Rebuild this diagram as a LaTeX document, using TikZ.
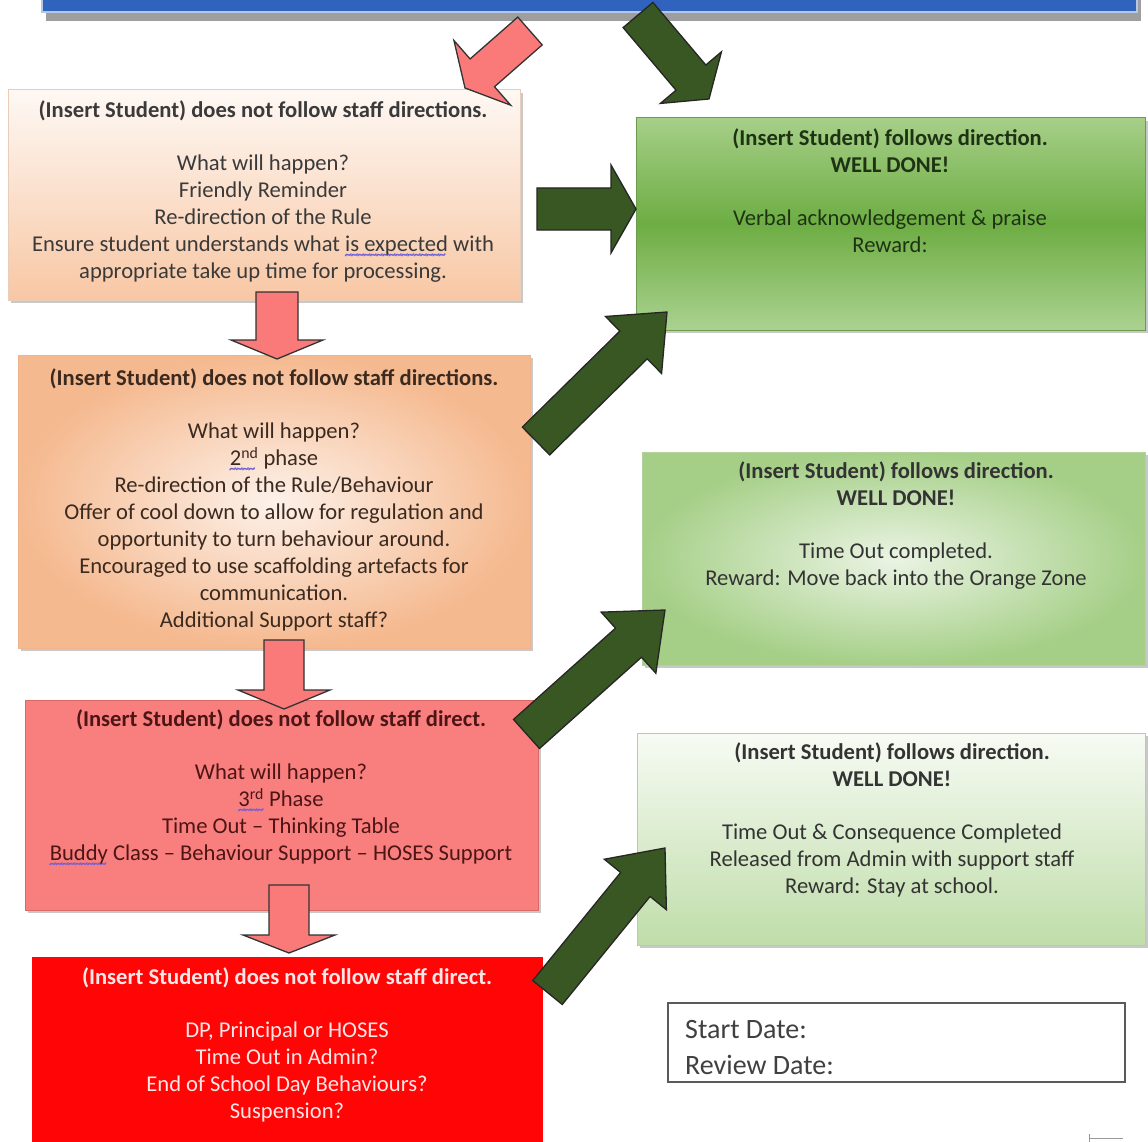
\documentclass[tikz,border=0pt]{standalone}
\usepackage{fontspec}
\setmainfont{Carlito}
\usetikzlibrary{calc,shadows}

\definecolor{barblue}{HTML}{3063BE}
\definecolor{barline}{HTML}{B4C7E7}
\definecolor{peachtop}{HTML}{FEF8F4}
\definecolor{peachbot}{HTML}{F8C7A4}
\definecolor{peachline}{HTML}{E9CDB9}
\definecolor{orinner}{HTML}{FDF1E9}
\definecolor{orouter}{HTML}{F5B98F}
\definecolor{orline}{HTML}{F0B48C}
\definecolor{salmon}{HTML}{F97F7F}
\definecolor{salmonline}{HTML}{D86A66}
\definecolor{brightred}{HTML}{FF0505}
\definecolor{gAtop}{HTML}{A6CF88}
\definecolor{gAmid}{HTML}{6DAD43}
\definecolor{gAbot}{HTML}{ABD290}
\definecolor{gAline}{HTML}{6D9B4E}
\definecolor{gBin}{HTML}{EBF4E4}
\definecolor{gBout}{HTML}{A5CF87}
\definecolor{gCtop}{HTML}{F7FBF4}
\definecolor{gCbot}{HTML}{BFDDA9}
\definecolor{gline}{HTML}{B3D09E}
\definecolor{arrowgreen}{HTML}{385723}
\definecolor{arrowpink}{HTML}{FA7A7A}
\definecolor{txtA}{HTML}{3A3A3A}
\definecolor{txtB}{HTML}{3B2A20}
\definecolor{txtC}{HTML}{4D1515}
\definecolor{txtD}{HTML}{FFE6E6}
\definecolor{txtG}{HTML}{1F3314}
\definecolor{txtGr}{HTML}{333333}
\definecolor{squigc}{HTML}{6F5FD8}
\definecolor{dategray}{HTML}{404040}
\definecolor{dateline}{HTML}{5A5A5A}

\newlength\sqw
\newcommand\squig[1]{\settowidth\sqw{#1}\rlap{\raisebox{-8pt}{\color{squigc}\fontsize{15}{15}\selectfont\bfseries\leaders\hbox{\kern-0.6pt\char"007E\kern-0.6pt}\hskip\sqw}}#1}

% block arrow: tail, tip, shaft half width, head half width, head length, style
\newcommand\blockarrow[6]{%
  \coordinate (ba-hb) at ($(#2)!#5!(#1)$);
  \draw[#6] ($(#1)!#3!90:(#2)$) -- ($(ba-hb)!#3!90:(#2)$) -- ($(ba-hb)!#4!90:(#2)$)
    -- (#2) -- ($(ba-hb)!#4!-90:(#2)$) -- ($(ba-hb)!#3!-90:(#2)$) -- ($(#1)!#3!-90:(#2)$) -- cycle;
}

\tikzset{
  boxbase/.style={rectangle, inner sep=0pt, outer sep=0pt, line width=1pt,
    drop shadow={shadow xshift=3pt, shadow yshift=-3pt, opacity=.3, fill=black!70}},
  plainbox/.style={rectangle, inner sep=0pt, outer sep=0pt},
  txt/.style={align=center, inner sep=0pt, anchor=north, font=\fontsize{22.6}{27}\selectfont},
  datetxt/.style={inner sep=0pt, anchor=base west, text=dategray, font=\fontsize{28}{36}\selectfont},
  greenarrow/.style={fill=arrowgreen, draw=black!85, line width=1.3pt, line join=miter},
  pinkarrow/.style={fill=arrowpink, draw=black!80, line width=1.3pt, line join=miter},
}

\begin{document}
\begin{tikzpicture}[x=1pt,y=-1pt]
\useasboundingbox (0,0) rectangle (1148,1142);
\fill[white] (0,0) rectangle (1148,1142);

% top bar
\fill[black!38] (46,0) rectangle (1141,21);
\node[plainbox, fill=barblue, draw=barline, line width=2pt, minimum width=1095, minimum height=24] (bar) at (589.5,0) {};

% left boxes
\node[boxbase, top color=peachtop, bottom color=peachbot, draw=peachline, minimum width=512, minimum height=210] (b1) at (264,195) {};
\node[boxbase, inner color=orinner, outer color=orouter, draw=orline, minimum width=512, minimum height=293] (b2) at (274,501.5) {};
\node[boxbase, fill=salmon, draw=salmonline, minimum width=513, minimum height=210] (b3) at (281.5,805) {};
\node[plainbox, fill=brightred, minimum width=511, minimum height=190] (b4) at (287.5,1052) {};

% right boxes
\node[boxbase, top color=gAtop, bottom color=gAbot, middle color=gAmid, draw=gAline, minimum width=509, minimum height=212] (g1) at (890.5,224) {};
\node[boxbase, inner color=gBin, outer color=gBout, draw=gline, minimum width=503, minimum height=213] (g2) at (893.5,558.5) {};
\node[boxbase, top color=gCtop, bottom color=gCbot, draw=gline, minimum width=508, minimum height=212] (g3) at (891,839) {};
\node[plainbox, fill=white, draw=dateline, line width=1.6pt, minimum width=457, minimum height=79] (dates) at (896.5,1042.5) {};

% texts
\node[txt, text=txtA] (t1) at (263,101) {\textbf{(Insert Student) does not follow staff directions.}\\[26pt]
  What will happen?\\ Friendly Reminder\\ Re-direction of the Rule\\
  Ensure student understands what \squig{is expected} with\\ appropriate take up time for processing.};
\node[txt, text=txtB] (t2) at (274,369) {\textbf{(Insert Student) does not follow staff directions.}\\[26pt]
  What will happen?\\ \squig{2\textsuperscript{nd}} phase\\ Re-direction of the Rule/Behaviour\\
  Offer of cool down to allow for regulation and\\ opportunity to turn behaviour around.\\
  Encouraged to use scaffolding artefacts for\\ communication.\\ Additional Support staff?};
\node[txt, text=txtC] (t3) at (281,710) {\textbf{(Insert Student) does not follow staff direct.}\\[26pt]
  What will happen?\\ \squig{3\textsuperscript{rd}} Phase\\ Time Out -- Thinking Table\\
  \squig{Buddy} Class -- Behaviour Support -- HOSES Support};
\node[txt, text=txtD] (t4) at (287,968) {\textbf{(Insert Student) does not follow staff direct.}\\[26pt]
  DP, Principal or HOSES\\ Time Out in Admin?\\ End of School Day Behaviours?\\ Suspension?};
\node[txt, text=txtG] (tg1) at (890,129) {\textbf{(Insert Student) follows direction.}\\ \textbf{WELL DONE!}\\[26pt]
  Verbal acknowledgement \& praise\\ Reward:};
\node[txt, text=txtGr] (tg2) at (896,462) {\textbf{(Insert Student) follows direction.}\\ \textbf{WELL DONE!}\\[26pt]
  Time Out completed.\\ Reward: Move back into the Orange Zone};
\node[txt, text=txtGr] (tg3) at (892,743) {\textbf{(Insert Student) follows direction.}\\ \textbf{WELL DONE!}\\[26pt]
  Time Out \& Consequence Completed\\ Released from Admin with support staff\\ Reward: Stay at school.};
\node[datetxt] (sd) at (685,1038) {Start Date:};
\node[datetxt] (rd) at (685,1074) {Review Date:};

% arrows
\coordinate (pa-t) at (530,31);   \coordinate (pa-h) at (465,88);
\coordinate (ga-t) at (638,15);   \coordinate (ga-h) at (709,99);
\coordinate (gh-t) at (537,209);  \coordinate (gh-h) at (636,209);
\coordinate (gd-t) at (536,441);  \coordinate (gd-h) at (667,312);
\coordinate (ge-t) at (526.5,734); \coordinate (ge-h) at (665,610);
\coordinate (gf-t) at (547.5,992.5); \coordinate (gf-h) at (665,848);
\coordinate (pA-t) at (277,292);  \coordinate (pA-h) at (277,359);
\coordinate (pB-t) at (284,640);  \coordinate (pB-h) at (284,709);
\coordinate (pC-t) at (289,885);  \coordinate (pC-h) at (289,953);

\blockarrow{pa-t}{pa-h}{18.5pt}{43pt}{23pt}{pinkarrow}
\blockarrow{ga-t}{ga-h}{19.5pt}{40pt}{28pt}{greenarrow}
\blockarrow{gh-t}{gh-h}{21pt}{44pt}{25pt}{greenarrow}
\blockarrow{gd-t}{gd-h}{19.5pt}{40pt}{47pt}{greenarrow}
\blockarrow{ge-t}{ge-h}{19.5pt}{41pt}{49pt}{greenarrow}
\blockarrow{gf-t}{gf-h}{19pt}{40pt}{47pt}{greenarrow}
\blockarrow{pA-t}{pA-h}{21pt}{46pt}{19pt}{pinkarrow}
\blockarrow{pB-t}{pB-h}{20pt}{46pt}{19pt}{pinkarrow}
\blockarrow{pC-t}{pC-h}{20pt}{46pt}{18pt}{pinkarrow}

% small mark bottom right
\draw[black!40, line width=0.8pt] (1089,1134) -- (1089,1142) (1089,1138) -- (1123,1138);
\end{tikzpicture}
\end{document}
